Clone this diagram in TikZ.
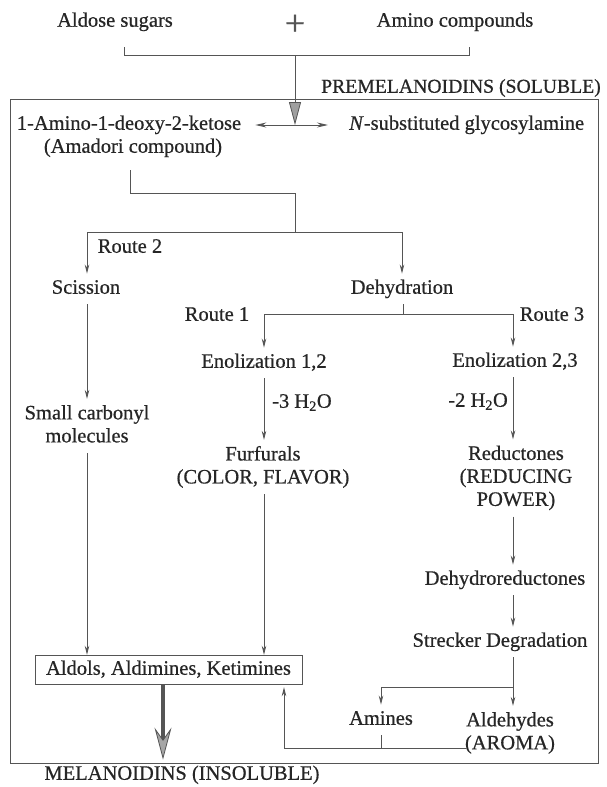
\documentclass[tikz,border=0pt]{standalone}
\usepackage{fontspec}
\setmainfont{Liberation Serif}[FakeBold=0.6]
\usetikzlibrary{arrows.meta}
\definecolor{ink}{HTML}{262626}
\definecolor{wire}{HTML}{555555}
\newcommand{\sr}{\rule[-4.5pt]{0pt}{18.5pt}}
\begin{document}
\begin{tikzpicture}[x=1pt,y=-1pt,
  lbl/.style={font=\fontsize{20.5}{23}\selectfont, text=ink, inner xsep=2pt, inner ysep=6pt, text height=14pt, text depth=4.5pt},
  ml/.style={font=\fontsize{20.5}{23}\selectfont, text=ink, inner xsep=2pt, inner ysep=6pt, align=center},
  wire/.style={draw=wire, line width=0.9pt},
  arr/.style={wire, -{Stealth[length=9pt,width=4.5pt]}},
  bigarr/.style={draw=wire, line width=4pt, -{Stealth[length=32pt,width=17pt,inset=12pt,fill=gray!70,line width=0.8pt]}}
]
\useasboundingbox (0,0) rectangle (606,787);

% outer box
\draw[wire] (10,99) rectangle (598,763);

% labels
\node[lbl] (aldose) at (115,22) {Aldose sugars};
\node[font=\fontsize{36}{36}\selectfont\mdseries, text=wire, inner sep=0pt] (plus) at (295,25) {+};
\node[lbl] (amino) at (455,22) {Amino compounds};
\node[lbl, font=\fontsize{19.7}{23}\selectfont, anchor=east] (prem) at (603,88) {PREMELANOIDINS (SOLUBLE)};
\node[lbl] (ket) at (129,125) {1-Amino-1-deoxy-2-ketose};
\node[lbl, anchor=west] (nsub) at (347,125) {\textit{N}-substituted glycosylamine};
\node[lbl] (amad) at (133,148) {(Amadori compound)};
\node[lbl] (route2) at (130,248) {Route 2};
\node[lbl] (sciss) at (86,289) {Scission};
\node[lbl] (dehyd) at (402,289) {Dehydration};
\node[lbl] (route1) at (217,316) {Route 1};
\node[lbl] (route3) at (552,316) {Route 3};
\node[lbl] (enol12) at (264,363) {Enolization 1,2};
\node[lbl] (enol23) at (515,362) {Enolization 2,3};
\node[lbl, anchor=west] (w3) at (270,403) {-3 H\textsubscript{2}O};
\node[lbl, anchor=east] (w2) at (510,402) {-2 H\textsubscript{2}O};
\node[ml] (small) at (87,426) {\sr Small carbonyl\\\sr molecules};
\node[ml] (furf) at (263,467) {\sr Furfurals\\\sr (COLOR, FLAVOR)};
\node[ml] (reduct) at (516,478) {\sr Reductones\\\sr (REDUCING\\\sr POWER)};
\node[lbl] (dehydro) at (505,580) {Dehydroreductones};
\node[lbl] (strecker) at (500,642) {Strecker Degradation};
\node[lbl, draw=wire, line width=0.9pt, minimum width=267pt, inner ysep=5.5pt] (aldols) at (168.5,670) {Aldols, Aldimines, Ketimines};
\node[lbl] (amines) at (381,720) {Amines};
\node[ml] (aldeh) at (510,733) {\sr Aldehydes\\\sr (AROMA)};
\node[lbl] (melan) at (182,775) {MELANOIDINS (INSOLUBLE)};

% helper coordinates
\coordinate (bl) at (124,47);
\coordinate (br) at (469,47);
\coordinate (bm) at (295,55);
\coordinate (eq) at (295,125);
\coordinate (a0) at (130,170);
\coordinate (j1) at (295,193);
\coordinate (j2) at (295,232);
\coordinate (k1) at (403,314);
\coordinate (cF) at (264,0);
\coordinate (cR) at (513,0);
\coordinate (cS) at (87,0);
\coordinate (cU) at (284,0);
\coordinate (cM) at (163,0);
\coordinate (sb) at (513,687);
\coordinate (lb) at (466,748);

% connectors
\draw[wire] (bl) -- ++(0,8) -| (br);
\draw[wire, -{Triangle[length=23pt,width=12pt,fill=gray!75,line width=0.8pt]}] (bm) -- (eq);
\draw[wire, {Stealth[length=11pt,width=5pt]}-{Stealth[length=11pt,width=5pt]}, shorten <=12pt, shorten >=19pt] (ket.east) -- (nsub.west);
\draw[wire] (a0) |- (j1) -- (j2);
\draw[arr] (j2) -| (sciss.north -| cS);
\draw[arr] (j2) -| (dehyd.north);
\draw[arr] (sciss.south -| cS) -- (small.north -| cS);
\draw[wire] (dehyd.south -| k1) -- (k1);
\draw[arr] (k1) -| (enol12.north -| cF);
\draw[arr] (k1) -| (enol23.north -| cR);
\draw[arr] (enol12.south -| cF) -- (furf.north -| cF);
\draw[arr] (enol23.south -| cR) -- (reduct.north -| cR);
\draw[arr] (small.south -| cS) -- (aldols.north -| cS);
\draw[arr] (furf.south -| cF) -- (aldols.north -| cF);
\draw[arr] (reduct.south -| cR) -- (dehydro.north -| cR);
\draw[arr] (dehydro.south -| cR) -- (strecker.north -| cR);
\draw[wire] (strecker.south -| cR) -- (sb);
\draw[arr] (sb) -- (aldeh.north -| cR);
\draw[arr] (sb) -| (amines.north);
\draw[wire] (amines.south) -- (amines.south |- lb);
\draw[arr, shorten >=2pt] (lb) -| (aldols.south -| cU);
\draw[bigarr] (aldols.south -| cM) -- (melan.north -| cM);
\end{tikzpicture}
\end{document}
